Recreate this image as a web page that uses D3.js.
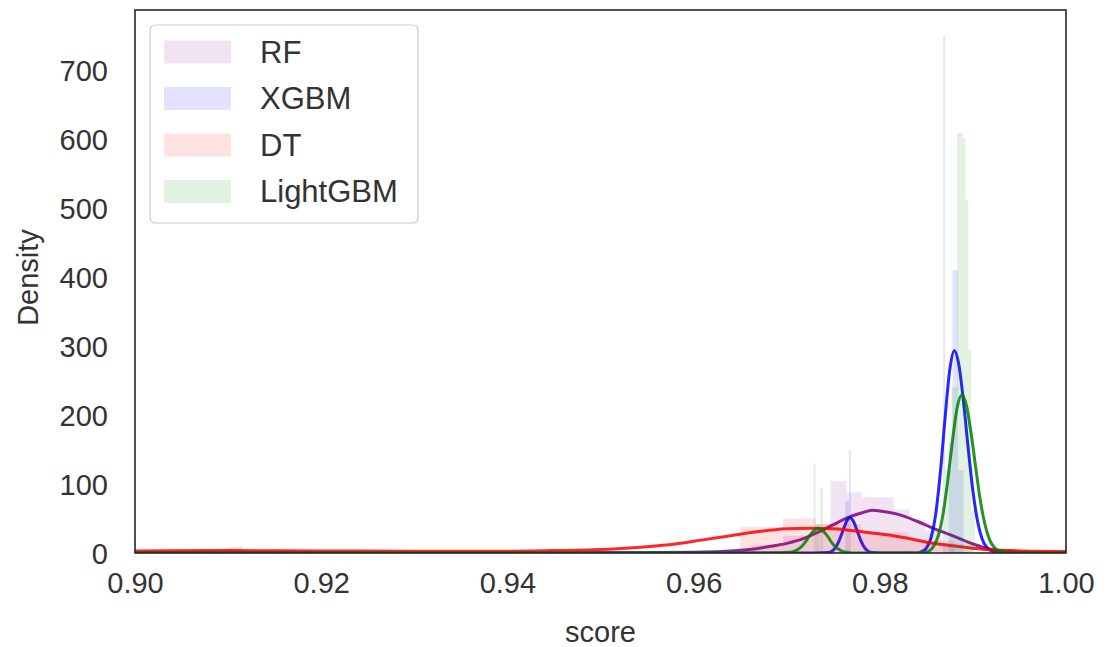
<!DOCTYPE html>
<html>
<head>
<meta charset="utf-8">
<script src="https://cdn.jsdelivr.net/npm/d3@7"></script>
<style>
  body { margin: 0; background: #fff; }
  text { font-family: "Liberation Sans", Arial, sans-serif; fill: #333; }
</style>
</head>
<body>
<div id="plot"></div>
<script>
// series names and line colours (seaborn distplot, one call per model)
const models = ["RF", "XGBM", "DT", "LightGBM"];
const colors = ["purple", "blue", "red", "green"];

const xTicks = [0.90, 0.92, 0.94, 0.96, 0.98, 1.00];
const yTicks = [0, 100, 200, 300, 400, 500, 600, 700];

// histogram bins: [start, end, density]
const rfBins = [
  [0.9064, 0.9084, 4], [0.9100, 0.9116, 9], [0.9662, 0.9696, 12], [0.9696, 0.9730, 25],
  [0.9730, 0.9747, 42], [0.9747, 0.9764, 104], [0.9764, 0.9781, 88], [0.9781, 0.9815, 81],
  [0.9815, 0.9832, 63], [0.9832, 0.9849, 48], [0.9849, 0.9866, 32], [0.9866, 0.9900, 14]
];
const xgbBins = [
  [0.9763, 0.9767, 75], [0.9767, 0.9769, 149], [0.9868, 0.9870, 750],
  [0.9874, 0.9878, 160], [0.9878, 0.9884, 410], [0.9884, 0.9890, 120]
];
const dtBins = [
  [0.9090, 0.9120, 3], [0.9650, 0.9696, 38], [0.9696, 0.9731, 50],
  [0.9731, 0.9780, 42], [0.9780, 0.9830, 30], [0.9830, 0.9880, 18]
];
const lgbBins = [
  [0.9729, 0.9731, 130], [0.9731, 0.9735, 40], [0.9736, 0.9739, 94],
  [0.9870, 0.9877, 120], [0.9877, 0.9883, 240], [0.9883, 0.9889, 609],
  [0.9889, 0.9892, 601], [0.9892, 0.9895, 512], [0.9895, 0.9898, 294], [0.9898, 0.9902, 60]
];

// KDE curves: [score, density]
const rfKde = [
  [0.900, 0.5], [0.910, 1.5], [0.920, 0.5], [0.940, 0.3], [0.955, 0.5], [0.960, 1], [0.963, 2],
  [0.966, 5], [0.968, 9], [0.970, 14], [0.972, 22], [0.9735, 31], [0.975, 41], [0.9765, 51],
  [0.978, 58], [0.9792, 62], [0.980, 61], [0.982, 56], [0.984, 46], [0.9857, 36], [0.988, 24],
  [0.990, 13], [0.992, 5], [0.994, 2], [0.996, 1], [1.000, 0]
];
const xgbKde = [
  [0.900, 0], [0.973, 0], [0.9744, 0.6], [0.9748, 2], [0.9752, 7], [0.9756, 17], [0.9760, 31],
  [0.9764, 45], [0.9768, 51], [0.9772, 45], [0.9776, 31], [0.9780, 17], [0.9784, 7], [0.9788, 2],
  [0.9792, 0.6], [0.980, 0], [0.9840, 0], [0.9845, 2], [0.9850, 7], [0.9855, 22], [0.9860, 56],
  [0.9865, 116], [0.9870, 194], [0.9875, 264], [0.9880, 293], [0.9885, 272], [0.9890, 218],
  [0.9895, 151], [0.9900, 90], [0.9905, 46], [0.9910, 20], [0.9915, 8], [0.9920, 3],
  [0.9925, 1], [0.9935, 0], [1.000, 0]
];
const dtKde = [
  [0.900, 3], [0.910, 3.5], [0.920, 3], [0.930, 2.5], [0.940, 2.5], [0.945, 3.5], [0.950, 5],
  [0.955, 9], [0.958, 13], [0.961, 19], [0.964, 25], [0.967, 31], [0.970, 35], [0.9725, 36],
  [0.975, 35], [0.978, 31], [0.981, 26], [0.9835, 20], [0.9857, 14], [0.988, 10], [0.990, 7],
  [0.9915, 5], [0.994, 3.5], [0.997, 2.5], [1.000, 2]
];
const lgbKde = [
  [0.900, 0], [0.968, 0], [0.9704, 1], [0.9709, 3], [0.9714, 7], [0.9719, 14], [0.9724, 24],
  [0.9729, 32], [0.9734, 36], [0.9739, 32], [0.9744, 24], [0.9749, 14], [0.9754, 7],
  [0.9759, 3], [0.9764, 1], [0.977, 0], [0.9845, 0], [0.9848, 1], [0.9853, 3], [0.9858, 10],
  [0.9863, 26], [0.9868, 57], [0.9873, 105], [0.9878, 162], [0.9883, 210], [0.9888, 229],
  [0.9893, 214], [0.9898, 174], [0.9903, 124], [0.9908, 76], [0.9913, 41], [0.9918, 19],
  [0.9923, 8], [0.9928, 3], [0.9938, 0.5], [0.995, 0], [1.000, 0]
];

const bins = [rfBins, xgbBins, dtBins, lgbBins];
const kdes = [rfKde, xgbKde, dtKde, lgbKde];

// dimensions
const W = 1109, H = 647;
const margin = { top: 10, right: 43, bottom: 94, left: 135 };
const width = W - margin.left - margin.right;
const height = H - margin.top - margin.bottom;

const svg = d3.select("#plot")
  .append("svg")
  .attr("width", W)
  .attr("height", H);

const g = svg.append("g")
  .attr("transform", `translate(${margin.left},${margin.top})`);

const x = d3.scaleLinear().domain([0.90, 1.00]).range([0, width]);
const y = d3.scaleLinear().domain([0, 787]).range([height, 0]);

// clip so the curves stay inside the frame
g.append("clipPath").attr("id", "clip")
  .append("rect").attr("width", width).attr("height", height);

const plot = g.append("g").attr("clip-path", "url(#clip)");

const line = d3.line()
  .x(d => x(d[0]))
  .y(d => y(d[1]))
  .curve(d3.curveMonotoneX);

// each series: histogram, then its kde line (same order as the seaborn calls)
models.forEach((m, i) => {
  plot.append("g")
    .selectAll("rect")
    .data(bins[i])
    .enter()
    .append("rect")
    .attr("x", d => x(d[0]))
    .attr("y", d => y(d[2]))
    .attr("width", d => Math.max(1, x(d[1]) - x(d[0])))
    .attr("height", d => height - y(d[2]))
    .attr("fill", colors[i])
    .attr("fill-opacity", 0.11);

  plot.append("path")
    .datum(kdes[i])
    .attr("d", line)
    .attr("fill", "none")
    .attr("stroke", colors[i])
    .attr("stroke-width", 3)
    .attr("stroke-opacity", 0.85);
});

// axes, no tick marks (seaborn white style)
const xAxis = g.append("g")
  .attr("transform", `translate(0,${height})`)
  .call(d3.axisBottom(x).tickValues(xTicks).tickFormat(d3.format(".2f")).tickSize(0).tickPadding(19));
xAxis.select(".domain").remove();
xAxis.selectAll("text").style("font-size", "29px").style("font-family", "Liberation Sans, Arial, sans-serif").attr("fill", "#333");

const yAxis = g.append("g")
  .call(d3.axisLeft(y).tickValues(yTicks).tickSize(0).tickPadding(27));
yAxis.select(".domain").remove();
yAxis.selectAll("text").style("font-size", "29px").style("font-family", "Liberation Sans, Arial, sans-serif").attr("fill", "#333").attr("dy", "0.35em");

// frame
g.append("rect")
  .attr("width", width)
  .attr("height", height)
  .attr("fill", "none")
  .attr("stroke", "#262626")
  .attr("stroke-width", 1.6);

// axis labels
g.append("text")
  .attr("x", width / 2)
  .attr("y", height + 89)
  .attr("text-anchor", "middle")
  .style("font-size", "29px")
  .text("score");

g.append("text")
  .attr("transform", `translate(${-97},${height / 2 - 4}) rotate(-90)`)
  .attr("text-anchor", "middle")
  .style("font-size", "29px")
  .text("Density");

// legend
const legend = g.append("g").attr("transform", "translate(15,15)");
legend.append("rect")
  .attr("width", 268)
  .attr("height", 198)
  .attr("rx", 5)
  .attr("fill", "#fff")
  .attr("fill-opacity", 0.8)
  .attr("stroke", "#cccccc")
  .attr("stroke-width", 1.2);

models.forEach((m, i) => {
  const row = legend.append("g").attr("transform", `translate(0,${27 + i * 46.5})`);
  row.append("rect")
    .attr("x", 14)
    .attr("y", -11.5)
    .attr("width", 67)
    .attr("height", 23)
    .attr("fill", colors[i])
    .attr("fill-opacity", 0.11);
  row.append("text")
    .attr("x", 110)
    .attr("y", 0)
    .attr("dy", "0.35em")
    .style("font-size", "31px")
    .text(m);
});
</script>
</body>
</html>
